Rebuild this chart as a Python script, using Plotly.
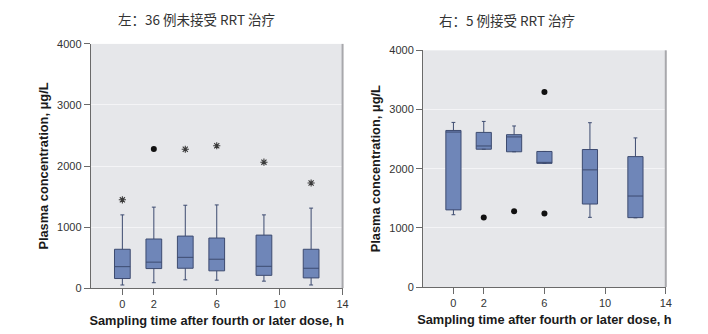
import plotly.graph_objects as go

# ---------------- data ----------------
times = [0, 2, 4, 6, 9, 12]

# Left: 36 patients without RRT
L_lower = [52, 89, 137, 131, 115, 52]
L_q1 = [158, 321, 326, 284, 210, 168]
L_median = [352, 426, 505, 474, 358, 326]
L_q3 = [637, 805, 853, 821, 869, 637]
L_upper = [1200, 1327, 1358, 1363, 1200, 1311]
L_star_x = [0, 4, 6, 9, 12]
L_star_y = [1447, 2275, 2332, 2063, 1722]
L_dot_x = [2]
L_dot_y = [2280]

# Right: 5 patients on RRT
R_lower = [1222, 2329, 2286, 2090, 1178, 1170]
R_q1 = [1304, 2329, 2286, 2090, 1403, 1173]
R_median = [2619, 2384, 2537, 2106, 1980, 1538]
R_q3 = [2646, 2613, 2575, 2291, 2324, 2204]
R_upper = [2782, 2799, 2722, 2291, 2777, 2520]
R_dot_x = [2, 4, 6, 6]
R_dot_y = [1174, 1282, 1244, 3295]

x_ticks = [0, 2, 6, 10, 14]
y_ticks = [0, 1000, 2000, 3000, 4000]

title_left = "左：36 例未接受 RRT 治疗"
title_right = "右：5 例接受 RRT 治疗"
x_title = "Sampling time after fourth or later dose, h"
y_title = "Plasma concentration, μg/L"

# ---------------- style ----------------
BOX_FILL = "#6f86b8"
BOX_LINE = "#3d4b70"
BG = "#e6e7ea"
AX = "#6a6a6a"
W, H = 708, 334

fig = go.Figure()

def add_box(q1, med, q3, lo, up, xa, ya):
    fig.add_trace(go.Box(
        x=times, q1=q1, median=med, q3=q3, lowerfence=lo, upperfence=up,
        width=1.0, whiskerwidth=0.25, fillcolor=BOX_FILL,
        line=dict(color=BOX_LINE, width=1), boxpoints=False,
        xaxis=xa, yaxis=ya, showlegend=False, hoverinfo="skip"))

add_box(L_q1, L_median, L_q3, L_lower, L_upper, "x", "y")
add_box(R_q1, R_median, R_q3, R_lower, R_upper, "x2", "y2")

fig.add_trace(go.Scatter(x=L_star_x, y=L_star_y, mode="markers", xaxis="x", yaxis="y",
                         marker=dict(symbol="asterisk-open", size=6, color="#3a3a3a",
                                     line=dict(color="#3a3a3a", width=1.1)),
                         showlegend=False))
fig.add_trace(go.Scatter(x=L_dot_x, y=L_dot_y, mode="markers", xaxis="x", yaxis="y",
                         marker=dict(symbol="circle", size=6, color="#111111"),
                         showlegend=False))
fig.add_trace(go.Scatter(x=R_dot_x, y=R_dot_y, mode="markers", xaxis="x2", yaxis="y2",
                         marker=dict(symbol="circle", size=6, color="#111111"),
                         showlegend=False))

tickfont = dict(family="Liberation Sans, Arial, sans-serif", size=11, color="#333333")
titlefont = dict(family="Liberation Sans, Arial, sans-serif", size=12.8, color="#1a1a1a")

def xaxis(domain, anchor):
    return dict(domain=domain, anchor=anchor, range=[-2, 14], tickvals=x_ticks,
                showgrid=False, zeroline=False, showline=True, linecolor=AX, linewidth=1.2,
                ticks="outside", ticklen=6, tickcolor=AX, tickfont=tickfont,
                title=dict(text="<b>" + x_title + "</b>", font=titlefont, standoff=6))

def yaxis(domain, anchor):
    return dict(domain=domain, anchor=anchor, range=[0, 4000], tickvals=y_ticks,
                showgrid=True, gridcolor="#f4f4f6", gridwidth=1.2, zeroline=False,
                showline=True, linecolor=AX, linewidth=1.2,
                ticks="outside", ticklen=6, tickcolor=AX, tickfont=tickfont,
                title=dict(text="<b>" + y_title + "</b>", font=titlefont, standoff=5))

title_font = dict(family="Noto Sans CJK SC", size=13.5, color="#333333")

fig.update_layout(
    width=W, height=H, margin=dict(l=0, r=0, t=0, b=0),
    paper_bgcolor="white", plot_bgcolor=BG,
    xaxis=xaxis([0.1295, 0.488], "y"),
    yaxis=yaxis([0.1237, 0.8823], "x"),
    xaxis2=xaxis([0.6027, 0.9484], "y2"),
    yaxis2=yaxis([0.1272, 0.8623], "x2"),
    shapes=[
        dict(type="line", xref="x domain", yref="y domain", x0=1, x1=1, y0=0, y1=1,
             line=dict(color="#a8a8ac", width=2)),
        dict(type="line", xref="x2 domain", yref="y2 domain", x0=1, x1=1, y0=0, y1=1,
             line=dict(color="#a8a8ac", width=2)),
    ],
    annotations=[
        dict(text=title_left, x=198 / W, y=1 - 14 / H, xref="paper", yref="paper",
             xanchor="center", yanchor="middle", showarrow=False, font=title_font),
        dict(text=title_right, x=511 / W, y=1 - 15 / H, xref="paper", yref="paper",
             xanchor="center", yanchor="middle", showarrow=False, font=title_font),
    ],
)

fig.write_html("out.html")
